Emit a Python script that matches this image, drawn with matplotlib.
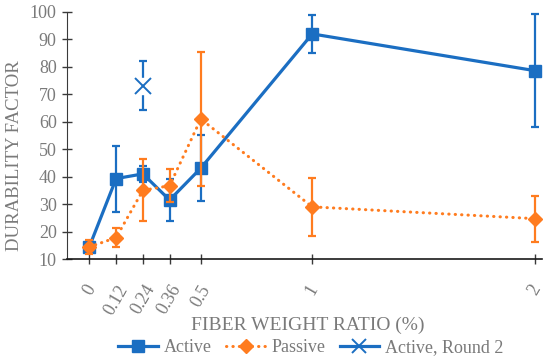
import matplotlib.pyplot as plt
import numpy as np

plt.rcParams['font.family'] = ['Liberation Serif', 'DejaVu Serif']

# data
ratio = [0, 0.12, 0.24, 0.36, 0.5, 1, 2]
active = [14.5, 39.3, 41.0, 31.5, 43.1, 92.0, 78.6]
active_err = [2.0, 12.0, 3.0, 7.6, 12.0, 7.0, 20.6]
passive = [14.4, 17.8, 35.0, 36.7, 61.0, 29.0, 24.7]
passive_err = [2.5, 3.6, 11.3, 6.0, 24.5, 10.5, 8.4]
round2_x = [0.24]
round2 = [73.2]
round2_err = [9.0]
xtick_labels = ['0', '0.12', '0.24', '0.36', '0.5', '1', '2']

blue = '#1b6ec2'
orange = '#ff7c1f'
grey = '#7a7a7a'
dots = (0, (0.1, 2.0))

fig = plt.figure(figsize=(5.5, 3.62), dpi=100)
ax = fig.add_axes([0.122, 0.2845, 0.863, 0.6825])

# active series
ax.errorbar(ratio, active, yerr=active_err, fmt='none', ecolor=blue,
            elinewidth=1.6, capsize=3, capthick=1.6, zorder=2)
ax.plot(ratio, active, color=blue, lw=2.3, marker='s', ms=8,
        label='Active', zorder=3)

# passive series
ax.errorbar(ratio, passive, yerr=passive_err, fmt='none', ecolor=orange,
            elinewidth=1.6, capsize=3, capthick=1.6, zorder=4)
ax.plot(ratio, passive, color=orange, lw=2.2, ls=dots,
        dash_capstyle='round', marker='D', ms=7, label='Passive', zorder=5)

# active round 2 (single point)
ax.errorbar(round2_x, round2, yerr=round2_err, fmt='none', ecolor=blue,
            elinewidth=1.6, capsize=3, capthick=1.6, zorder=2)
ax.plot(round2_x, round2, ls='none', marker='s', ms=11, mfc='white',
        mec='white', zorder=3)
ax.plot(round2_x, round2, color=blue, lw=2.3, marker='x', ms=12, mew=1.4,
        ls='none', zorder=4)

ax.set_xlim(-0.1, 2.03)
ax.set_ylim(10, 100)
ax.set_yticks(np.arange(10, 101, 10))
ax.set_xticks(ratio)
ax.set_xticklabels(xtick_labels, rotation=60, ha='center', va='top')

for s in ['top', 'right']:
    ax.spines[s].set_visible(False)
ax.spines['left'].set_color('#3a3a3a')
ax.spines['bottom'].set_color('#1a1a1a')
ax.spines['bottom'].set_linewidth(1.2)

ax.tick_params(axis='both', direction='inout', length=7, width=1,
               color='#3a3a3a', labelcolor=grey, labelsize=13)
ax.tick_params(axis='x', pad=13)
ax.tick_params(axis='y', pad=4)

ax.set_xlabel('FIBER WEIGHT RATIO (%)', color=grey, fontsize=14)
ax.xaxis.set_label_coords((308 - 67) / 475, -(317 - 259) / 247)
fig.text(0.027, 1 - 156 / 362, 'DURABILITY FACTOR', rotation=90, color=grey,
         fontsize=13.5, ha='center', va='center')

# legend entries
h1 = plt.Line2D([], [], color=blue, lw=2.3, marker='s', ms=8)
h2 = plt.Line2D([], [], color=orange, lw=2.2, ls=dots,
                dash_capstyle='round', marker='D', ms=7)
h3 = plt.Line2D([], [], color=blue, lw=2.3, marker='x', ms=10, mew=1.4)
fig.legend([h1, h2, h3], ['Active', 'Passive', 'Active, Round 2'],
           loc='center', bbox_to_anchor=(0.565, 1 - 348 / 362), ncol=3,
           frameon=False, fontsize=13, labelcolor=grey, handlelength=2.2,
           handletextpad=0.3, columnspacing=0.8)

fig.savefig('out.png', dpi=100)
